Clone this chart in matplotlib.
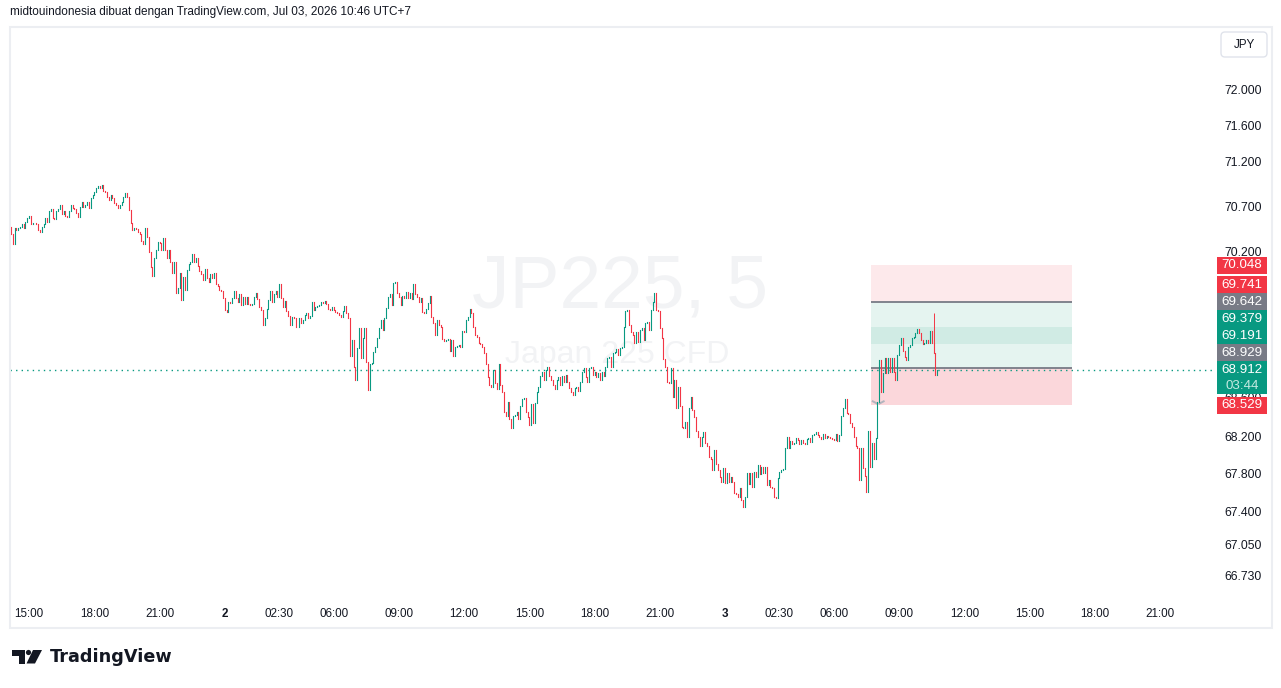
# JP225 5-minute candles, TradingView style snapshot

import numpy as np
import matplotlib.pyplot as plt
from matplotlib.patches import Rectangle, FancyBboxPatch, Polygon, Circle
from matplotlib.transforms import Affine2D, Bbox
from matplotlib.ticker import NullLocator, NullFormatter

plt.rcParams['font.family'] = ['Liberation Sans', 'DejaVu Sans']

# ---- data (5 minute closes, open = previous close) ----
first_open = 70.47

day1_close = [
    70.39, 70.28, 70.46, 70.44, 70.46, 70.47, 70.50, 70.46, 70.53, 70.57,
    70.59, 70.50, 70.52, 70.51, 70.50, 70.44, 70.42, 70.47, 70.50, 70.57,
    70.53, 70.65, 70.67, 70.57, 70.56, 70.65, 70.67, 70.71, 70.61, 70.65,
    70.59, 70.58, 70.65, 70.71, 70.68, 70.67, 70.63, 70.58, 70.69, 70.75,
    70.69, 70.71, 70.75, 70.68, 70.79, 70.83, 70.86, 70.90, 70.92, 70.90,
    70.94, 70.87, 70.86, 70.80, 70.77, 70.83, 70.79, 70.74, 70.71, 70.68,
    70.71, 70.75, 70.80, 70.85, 70.80, 70.66, 70.52, 70.44, 70.46, 70.45,
    70.41, 70.39, 70.32, 70.28, 70.46, 70.36, 70.20, 70.03, 69.93, 70.13,
    70.22, 70.30, 70.29, 70.22, 70.35, 70.22, 70.13, 70.22,
    70.08, 69.97, 70.08, 69.75, 69.80, 69.97, 69.67, 69.92, 69.78, 70.00,
    70.06, 70.08, 70.17, 70.09, 70.13, 70.04, 69.99, 69.95, 69.89, 70.01,
    69.91, 69.87, 69.95, 69.91, 69.97, 69.84, 69.82, 69.78, 69.77, 69.69,
]

day2_close = [
    69.56, 69.54, 69.65, 69.64, 69.69, 69.77, 69.69, 69.65, 69.73, 69.62,
    69.70, 69.63, 69.70, 69.63, 69.62, 69.63, 69.70, 69.75, 69.68, 69.59,
    69.56, 69.40, 69.47, 69.57, 69.67, 69.77, 69.65, 69.73, 69.77, 69.70,
    69.84, 69.69, 69.59, 69.66, 69.55, 69.49, 69.40, 69.48, 69.47, 69.38,
    69.37, 69.47, 69.42, 69.45, 69.51, 69.53, 69.47, 69.49, 69.65, 69.56,
    69.59, 69.60, 69.62, 69.65, 69.64, 69.66, 69.63,
    69.57, 69.56, 69.59, 69.56, 69.54, 69.53, 69.51, 69.48, 69.55, 69.60,
    69.53, 69.47, 69.06, 69.23, 68.94, 68.80, 69.15, 69.36, 69.04, 69.26,
    69.36, 69.00, 68.69, 68.97, 68.98, 69.10, 69.16, 69.26, 69.36, 69.45,
    69.34, 69.47, 69.58, 69.70, 69.73, 69.62, 69.86, 69.87, 69.75, 69.70,
    69.62, 69.71, 69.69, 69.76, 69.69, 69.75, 69.68, 69.84, 69.73, 69.70,
    69.65, 69.69, 69.54, 69.53, 69.57, 69.64, 69.71, 69.48, 69.42, 69.29,
    69.45, 69.40, 69.38, 69.25, 69.22, 69.23, 69.24, 69.12, 69.23, 69.06,
    69.16, 69.17, 69.18, 69.16, 69.33, 69.32, 69.45, 69.48, 69.57, 69.53,
    69.38, 69.29, 69.27, 69.20, 69.19, 69.16, 69.09, 68.97, 68.83,
    68.75, 68.73, 68.91, 68.77, 68.70, 68.97, 68.75, 68.67, 68.46, 68.41,
    68.56, 68.38, 68.29, 68.41, 68.42, 68.46, 68.38, 68.52, 68.60, 68.61,
    68.46, 68.40, 68.32, 68.54, 68.34, 68.55, 68.67, 68.73, 68.84, 68.89,
    68.80, 68.91, 68.94, 68.84, 68.80, 68.75, 68.70, 68.80, 68.83, 68.75,
    68.84, 68.78, 68.86, 68.78, 68.72, 68.67, 68.64, 68.72, 68.73, 68.68,
    68.78, 68.89, 68.93, 68.83, 68.78, 68.93, 68.94, 68.86, 68.89, 68.83,
    68.88, 68.80, 68.89, 68.84, 68.94, 69.04, 69.05, 68.94, 69.09, 69.10,
    69.14, 69.07, 69.15, 69.16, 69.37, 69.55, 69.56, 69.40, 69.32, 69.29,
    69.20, 69.32, 69.21, 69.34, 69.36, 69.23, 69.42, 69.43, 69.34, 69.56,
    69.65, 69.75, 69.56, 69.55, 69.36, 69.26, 69.03, 68.94, 68.78, 68.77,
    68.93, 68.62, 68.80, 68.50, 68.73, 68.52, 68.30, 68.29, 68.35, 68.19,
    68.50, 68.62, 68.48, 68.40, 68.25, 68.19, 68.09, 68.19, 68.24, 68.13,
    68.09, 67.98, 67.96, 67.84, 68.05, 67.90, 67.84, 67.76, 67.71, 67.86,
]

day3_close = [
    67.70, 67.81, 67.71, 67.76, 67.71, 67.59, 67.58, 67.55, 67.65, 67.52,
    67.45, 67.55, 67.81, 67.69, 67.81, 67.66, 67.82, 67.76, 67.89, 67.80,
    67.87, 67.81, 67.87, 67.68, 67.73, 67.66, 67.65, 67.55, 67.54, 67.75,
    67.82, 67.84, 67.85, 68.07, 68.19, 68.07, 68.15, 68.11, 68.13, 68.18,
    68.16, 68.12, 68.16, 68.13, 68.11, 68.17, 68.18,
    68.14, 68.21, 68.22, 68.24, 68.21, 68.19, 68.17, 68.22, 68.18, 68.20,
    68.19, 68.18, 68.17, 68.16, 68.22, 68.15, 68.21, 68.41, 68.50, 68.60,
    68.45, 68.44, 68.34, 68.30, 68.19, 68.09, 68.07, 67.73, 68.07, 67.86,
    67.77, 67.60, 68.25, 67.87, 68.13, 67.95, 68.18, 68.56, 69.02, 68.67,
    68.88, 69.04, 68.88, 69.04, 68.89, 69.04, 68.89, 68.80, 69.07, 69.18,
    69.26, 69.11, 69.05, 69.02, 69.16, 69.18, 69.26, 69.27,
    69.31, 69.35, 69.31, 69.23, 69.19, 69.20, 69.23, 69.20, 69.33, 69.20,
    69.09, 68.86, 68.91,
]

# one long upper wick (bar index, high)
spike_bar = 509
spike_high = 69.53

last_price = 68.912
countdown = '03:44'

# time axis: bar index of each label
time_tick_bars = [10, 46, 82, 118, 148, 178, 214, 250, 286, 322,
                  358, 394, 424, 454, 490, 526, 562, 598, 634]
time_tick_labels = ['15:00', '18:00', '21:00', '2', '02:30', '06:00', '09:00',
                    '12:00', '15:00', '18:00', '21:00', '3', '02:30', '06:00',
                    '09:00', '12:00', '15:00', '18:00', '21:00']

price_ticks = [72.0, 71.6, 71.2, 70.7, 70.2, 68.2, 67.8, 67.4, 67.05, 66.73]
hidden_tick = 68.6   # mostly covered by the stop label

# position drawing tools (bar range and price levels)
box_start, box_end = 474.5, 585.4
short_stop, short_entry, short_target = 70.048, 69.642, 69.191
long_stop, long_entry, long_target = 68.529, 68.929, 69.379

# coloured labels on the price scale
axis_labels = [70.048, 69.741, 69.642, 69.379, 69.191, 68.929, 68.912, 68.529]
axis_label_kind = ['red', 'red', 'gray', 'green', 'green', 'gray', 'last', 'red']

GREEN = '#089981'
RED = '#f23645'
GRAY = '#787b86'
TEXT = '#131722'

W, H = 1281, 688
fig = plt.figure(figsize=(W / 100, H / 100), dpi=100)
fig.patch.set_facecolor('white')

# pixel (x from left, y from top) -> figure
pxt = Affine2D().scale(1 / W, -1 / H).translate(0, 1) + fig.transFigure

ax = fig.add_axes([10 / W, 1 - 600 / H, (1213 - 10) / W, (600 - 27) / H])
ax.set_yscale('log')
ax.set_xlim(-0.55, 663.2)
ax.set_ylim(66.47, 72.714)
for s in ax.spines.values():
    s.set_visible(False)

# candles
closes = np.array(day1_close + day2_close + day3_close)
opens = np.r_[first_open, closes[:-1]]
idx = np.arange(len(closes))
cols = np.where(closes >= opens, GREEN, RED)
lc = ax.vlines(idx, np.minimum(opens, closes), np.maximum(opens, closes),
               colors=cols, lw=0.8, zorder=4)
lc.set_capstyle('projecting')
ax.vlines(spike_bar, max(opens[spike_bar], closes[spike_bar]), spike_high,
          colors=cols[spike_bar], lw=0.7, zorder=4)

# position tool boxes
bw = box_end - box_start
zones = [
    (short_entry, short_stop, '#fde9eb'),
    (long_target, short_entry, '#e5f4f0'),
    (short_target, long_target, '#d0ebe4'),
    (long_entry, short_target, '#e5f4f0'),
    (long_stop, long_entry, '#fbd7db'),
]
for lo, hi, c in zones:
    ax.add_patch(Rectangle((box_start, lo), bw, hi - lo, fc=c, ec='none', zorder=1))
ax.hlines([short_entry, long_entry], box_start, box_end, colors=GRAY, lw=1.3, zorder=2)
# small grey anchor marks of the long tool
ax.plot([475.5, 477.8], [68.572, 68.548], color='#b2b5be', lw=1.4, zorder=3)
ax.plot([479.2, 481.5], [68.548, 68.572], color='#b2b5be', lw=1.4, zorder=3)

# last price dotted line
ax.axhline(last_price, color=GREEN, lw=1.0, ls=(0, (1, 3)), zorder=3)

# watermark
ax.text(0.507, 0.545, 'JP225, 5', transform=ax.transAxes, ha='center', va='center',
        fontsize=54, color='#f2f3f5', zorder=0)
ax.text(0.505, 0.428, 'Japan 225 CFD', transform=ax.transAxes, ha='center', va='center',
        fontsize=23, color='#f2f3f5', zorder=0)

# axes ticks
ax.set_xticks(time_tick_bars)
ax.set_xticklabels(time_tick_labels)
for t in ax.get_xticklabels():
    if t.get_text() in ('2', '3'):
        t.set_fontweight('bold')
ax.tick_params(axis='x', length=0, pad=6, labelsize=8.4, labelcolor=TEXT)

ax.yaxis.tick_right()
ax.set_yticks(price_ticks)
ax.set_yticklabels(['%.3f' % v for v in price_ticks])
ax.yaxis.set_minor_locator(NullLocator())
ax.yaxis.set_minor_formatter(NullFormatter())
ax.tick_params(axis='y', length=0, pad=8, labelsize=8.8, labelcolor=TEXT)


def price_to_px(p):
    return H - ax.transData.transform((0, p))[1]


# the 68.600 tick: only its top shows above the stop label
hy = price_to_px(hidden_tick)
ht = fig.text(1224 / W, 1 - hy / H, '%.3f' % hidden_tick, fontsize=8.8, color=TEXT,
              ha='left', va='center', zorder=4)
ht.set_clip_box(Bbox.from_extents(1213, H - 396.5, 1281, H - 380))

# coloured price labels, pushed apart like the price scale does
ys = [price_to_px(p) for p in axis_labels]
anchor = axis_label_kind.index('last')
for i in range(anchor - 1, -1, -1):
    ys[i] = min(ys[i], ys[i + 1] - 17)
for i in range(anchor + 1, len(ys)):
    prev_bottom = ys[i - 1] + (24.5 if i - 1 == anchor else 8.5)
    ys[i] = max(ys[i], prev_bottom + 8.5)

kind_color = {'red': RED, 'gray': GRAY, 'green': GREEN, 'last': GREEN}
for p, kind, y in zip(axis_labels, axis_label_kind, ys):
    h = 33 if kind == 'last' else 17
    fig.add_artist(Rectangle((1217, y - 8.5), 50, h, transform=pxt,
                             fc=kind_color[kind], ec='none', zorder=5))
    fig.text(1242 / W, 1 - y / H, '%.3f' % p, color='white', fontsize=9.6,
             ha='center', va='center', zorder=6)
    if kind == 'last':
        fig.text(1242 / W, 1 - (y + 16) / H, countdown, color='#c4eae1',
                 fontsize=9.6, ha='center', va='center', zorder=6)

# pane frame
fig.add_artist(Rectangle((9.5, 26.5), 1262, 601.5, transform=pxt, fill=False,
                         ec='#eceef2', lw=1.5, zorder=2))

# currency button
fig.add_artist(FancyBboxPatch((1221, 32), 46, 25, transform=pxt,
                              boxstyle='round,pad=0,rounding_size=4',
                              fc='white', ec='#e0e3eb', lw=1, zorder=5))
fig.text(1244 / W, 1 - 44.5 / H, 'JPY', fontsize=8.4, color=TEXT,
         ha='center', va='center', zorder=6)

# header
fig.text(10 / W, 1 - 12 / H, 'midtouindonesia dibuat dengan TradingView.com, Jul 03, 2026 10:46 UTC+7',
         fontsize=8.5, color=TEXT, ha='left', va='center')

# TradingView logo
logo = '#131722'
fig.add_artist(Rectangle((12, 650), 13, 6, transform=pxt, fc=logo, ec='none'))
fig.add_artist(Rectangle((18.5, 650), 6.5, 13.5, transform=pxt, fc=logo, ec='none'))
fig.add_artist(Circle((28.5, 652.5), 2.6, transform=pxt, fc=logo, ec='none'))
fig.add_artist(Polygon([(33, 650), (42, 650), (35, 663.5), (26.5, 663.5)],
                       transform=pxt, fc=logo, ec='none'))
fig.text(50 / W, 1 - 657.5 / H, 'TradingView', family='DejaVu Sans',
         fontweight='bold', fontsize=12.7, color=logo, ha='left', va='center')

fig.savefig('out.png', dpi=100, facecolor='white')
